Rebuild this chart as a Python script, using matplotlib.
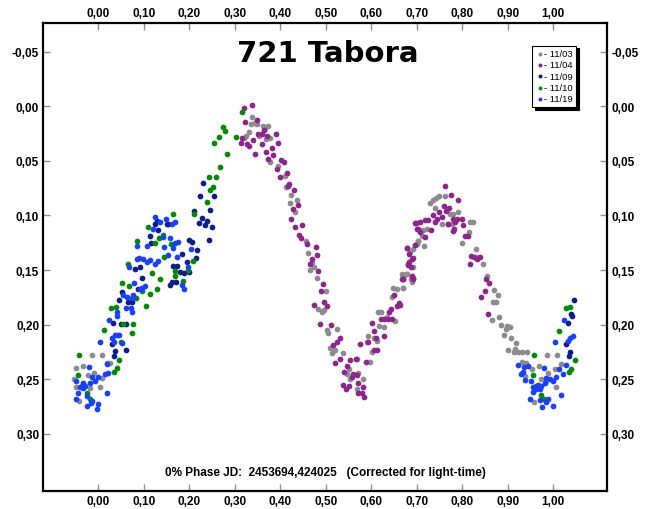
import matplotlib
matplotlib.use("Agg")
import matplotlib.pyplot as plt
from matplotlib.ticker import FixedLocator, FuncFormatter

plt.rcParams['font.family'] = ['Liberation Sans', 'DejaVu Sans']

# ---- Lightcurve data: (phase, relative magnitude) per night ----
phase_1103 = [-0.015, 0.007, 0.018, 0.025, -0.050, -0.033, -0.053, -0.022, -0.010, 0.007, 0.003,
              -0.042, -0.048, -0.019,
              0.338, 0.344, 0.335, 0.349, 0.363, 0.374, 0.366, 0.324, 0.332, 0.320, 0.354, 0.377,
              0.368, 0.377, 0.396, 0.410, 0.412, 0.423, 0.436, 0.421, 0.432, 0.456, 0.462, 0.469,
              0.475, 0.480, 0.465, 0.500, 0.483, 0.491, 0.497, 0.505, 0.524, 0.503, 0.509, 0.513,
              0.520, 0.538, 0.552, 0.546, 0.568, 0.571, 0.553, 0.581, 0.568, 0.597, 0.590, 0.601,
              0.593, 0.606, 0.612, 0.618, 0.629, 0.621, 0.614, 0.634, 0.652, 0.648, 0.657, 0.645,
              0.670, 0.668, 0.678, 0.687, 0.691, 0.703, 0.696, 0.701,
              0.730, 0.736, 0.742, 0.749, 0.762, 0.740, 0.773, 0.780, 0.791, 0.755, 0.769, 0.777,
              0.714, 0.722, 0.818, 0.824, 0.815, 0.800, 0.711, 0.716, 0.703, 0.692, 0.685, 0.676,
              0.669, 0.670, 0.689, 0.830, 0.834, 0.846, 0.855, 0.870, 0.879, 0.874, 0.868, 0.865,
              0.881, 0.886, 0.899, 0.905, 0.896, 0.892, 0.908, 0.918, 0.916, 0.901, 0.914, 0.923,
              0.931, 0.943, 0.932, 0.940, 0.953, 0.969, 0.987, 1.009, 1.004, 1.018, 0.989, 0.974,
              0.985, 1.006, 0.958, 0.938]
mag_1103 = [0.228, 0.228, 0.235, 0.235, 0.240, 0.238, 0.250, 0.246, 0.244, 0.249, 0.257,
            0.270, 0.257, 0.258,
            0.010, 0.015, 0.016, 0.016, 0.018, 0.018, 0.020, 0.027, 0.024, 0.029, 0.027, 0.029,
            0.030, 0.051, 0.055, 0.064, 0.074, 0.081, 0.086, 0.089, 0.097, 0.123, 0.134, 0.143,
            0.147, 0.157, 0.150, 0.169, 0.186, 0.188, 0.187, 0.208, 0.204, 0.205, 0.221, 0.226,
            0.223, 0.226, 0.241, 0.245, 0.231, 0.244, 0.250, 0.250, 0.259, 0.234, 0.216, 0.225,
            0.210, 0.212, 0.215, 0.201, 0.202, 0.188, 0.188, 0.193, 0.197, 0.166, 0.167, 0.175,
            0.166, 0.154, 0.154, 0.158, 0.147, 0.123, 0.127, 0.126,
            0.089, 0.086, 0.084, 0.082, 0.082, 0.093, 0.099, 0.099, 0.097, 0.108, 0.108, 0.108,
            0.113, 0.112, 0.106, 0.106, 0.115, 0.125, 0.119, 0.128, 0.123, 0.131, 0.133, 0.154,
            0.155, 0.166, 0.161, 0.131, 0.138, 0.144, 0.155, 0.168, 0.173, 0.179, 0.179, 0.196,
            0.193, 0.200, 0.201, 0.202, 0.204, 0.209, 0.212, 0.217, 0.222, 0.223, 0.225, 0.225,
            0.225, 0.225, 0.234, 0.235, 0.241, 0.238, 0.228, 0.228, 0.241, 0.236, 0.244, 0.250,
            0.252, 0.257, 0.271, 0.247]

phase_1104 = [0.320, 0.338, 0.322, 0.348, 0.315, 0.313, 0.326, 0.332, 0.341, 0.352, 0.359, 0.364,
              0.370, 0.360, 0.344, 0.368, 0.374, 0.382, 0.385, 0.390, 0.394, 0.401, 0.409, 0.392,
              0.399, 0.414, 0.420, 0.416, 0.430, 0.440, 0.429, 0.423, 0.433, 0.448, 0.442, 0.445,
              0.459, 0.478, 0.480, 0.469, 0.465, 0.483, 0.493, 0.489, 0.497, 0.502, 0.475, 0.487,
              0.511, 0.531, 0.524, 0.516, 0.520, 0.531, 0.540, 0.546, 0.553, 0.566, 0.560, 0.557,
              0.568, 0.571, 0.538, 0.544, 0.552, 0.581, 0.570, 0.579, 0.584, 0.575, 0.588, 0.592,
              0.601, 0.606, 0.610, 0.607, 0.612, 0.628, 0.621, 0.629, 0.637, 0.645, 0.640, 0.643,
              0.656, 0.661, 0.651, 0.667, 0.670, 0.691, 0.687, 0.680, 0.689, 0.684, 0.678, 0.698,
              0.703,
              0.762, 0.775, 0.791, 0.760, 0.771, 0.764, 0.749, 0.735, 0.755, 0.744, 0.740, 0.718,
              0.725, 0.707, 0.696, 0.700, 0.708, 0.731, 0.718, 0.697, 0.678, 0.691, 0.683, 0.681,
              0.689, 0.692, 0.669, 0.663, 0.780, 0.784, 0.789, 0.799, 0.802, 0.806, 0.813, 0.819,
              0.826, 0.832, 0.839, 0.817, 0.853, 0.859, 0.850, 0.841, 0.857, 0.779, 0.769, 0.782]
mag_1104 = [0.002, -0.001, 0.014, 0.013, 0.029, 0.034, 0.035, 0.036, 0.031, 0.025, 0.025, 0.022,
            0.027, 0.035, 0.044, 0.042, 0.048, 0.038, 0.045, 0.025, 0.034, 0.049, 0.051, 0.057,
            0.065, 0.061, 0.071, 0.073, 0.077, 0.090, 0.094, 0.103, 0.111, 0.109, 0.118, 0.121,
            0.126, 0.129, 0.136, 0.140, 0.144, 0.151, 0.163, 0.169, 0.179, 0.183, 0.182, 0.199,
            0.200, 0.212, 0.216, 0.219, 0.235, 0.231, 0.243, 0.238, 0.232, 0.231, 0.245, 0.248,
            0.246, 0.253, 0.255, 0.259, 0.256, 0.257, 0.263, 0.263, 0.266, 0.218, 0.234, 0.216,
            0.198, 0.206, 0.212, 0.223, 0.223, 0.210, 0.195, 0.195, 0.195, 0.195, 0.188, 0.186,
            0.183, 0.180, 0.173, 0.158, 0.158, 0.157, 0.147, 0.144, 0.140, 0.135, 0.130, 0.107,
            0.112,
            0.073, 0.081, 0.086, 0.091, 0.093, 0.096, 0.097, 0.100, 0.101, 0.103, 0.106, 0.104,
            0.104, 0.106, 0.107, 0.112, 0.115, 0.113, 0.120, 0.127, 0.130, 0.139, 0.143, 0.145,
            0.155, 0.158, 0.158, 0.182, 0.103, 0.106, 0.103, 0.103, 0.109, 0.119, 0.119, 0.137,
            0.138, 0.140, 0.138, 0.144, 0.158, 0.162, 0.169, 0.175, 0.190, 0.114, 0.108, 0.112]

phase_1109 = [0.230, 0.223, 0.254, 0.245, 0.211, 0.228, 0.221, 0.234, 0.240, 0.250, 0.243, 0.200,
              0.207, 0.217, 0.214, 0.194, 0.183, 0.174, 0.164, 0.199, 0.188, 0.179, 0.161, 0.157,
              0.170, 0.128, 0.124, 0.131, 0.113, 0.115, 0.091, 0.080, 0.095, 0.088, 0.073, 0.066,
              0.046, 0.053, 0.033, 0.049, 0.060, 0.029, 0.036, 0.034, 0.060, 0.150, 0.153,
              1.046, 1.040, 1.042, 1.032, 1.028, 1.038, 1.035]
mag_1109 = [0.070, 0.082, 0.082, 0.095, 0.096, 0.102, 0.107, 0.109, 0.105, 0.111, 0.122, 0.122,
            0.124, 0.132, 0.139, 0.143, 0.135, 0.146, 0.146, 0.152, 0.153, 0.152, 0.161, 0.164,
            0.161, 0.105, 0.108, 0.113, 0.119, 0.125, 0.147, 0.149, 0.157, 0.167, 0.179, 0.179,
            0.177, 0.170, 0.198, 0.199, 0.199, 0.218, 0.224, 0.229, 0.223, 0.108, 0.108,
            0.177, 0.190, 0.192, 0.198, 0.218, 0.225, 0.229]

phase_1110 = [-0.042, -0.044, -0.026, -0.019, 0.034, 0.040, 0.046, 0.049, 0.013, 0.073, 0.055,
              0.076, 0.027, 0.038, 0.104, 0.053, 0.068, 0.066, 0.082, 0.097, 0.113, 0.128, 0.119,
              0.135, 0.085, 0.109, 0.125, 0.134, 0.142, 0.159, 0.164, 0.145, 0.168, 0.168, 0.186,
              0.197, 0.208, 0.211, 0.238, 0.245, 0.252, 0.243, 0.258, 0.267, 0.283, 0.255, 0.265,
              0.274, 0.278, 0.302, 0.315,
              1.028, 1.038, 1.012, 0.958, 0.956, 0.973, 0.980, 1.048, 1.035, 1.040]
mag_1110 = [0.228, 0.246, 0.263, 0.268, 0.243, 0.240, 0.232, 0.216, 0.205, 0.208, 0.199,
            0.199, 0.185, 0.184, 0.183, 0.162, 0.165, 0.144, 0.176, 0.169, 0.172, 0.167, 0.153,
            0.158, 0.123, 0.111, 0.125, 0.121, 0.118, 0.126, 0.099, 0.138, 0.151, 0.155, 0.160,
            0.150, 0.142, 0.099, 0.088, 0.077, 0.074, 0.065, 0.065, 0.056, 0.044, 0.034, 0.028,
            0.019, 0.023, 0.028, 0.005,
            0.185, 0.184, 0.206, 0.228, 0.246, 0.264, 0.268, 0.232, 0.243, 0.241]

phase_1119 = [0.124, 0.135, 0.148, 0.161, 0.168, 0.120, 0.142, 0.145, 0.157, 0.168, 0.175, 0.164,
              0.153, 0.173, 0.203, 0.197, 0.185, 0.188, 0.106, 0.086, 0.084, 0.090, 0.098, 0.106,
              0.113, 0.124, 0.131, 0.068, 0.079, 0.095, 0.102, 0.091, 0.054, 0.063, 0.073, 0.076,
              0.060, 0.071, 0.073, 0.041, 0.042, 0.023, 0.029, 0.036, 0.040, 0.046, 0.034, 0.051,
              0.003, 0.018, 0.021, 0.014, 0.000, -0.015, -0.008, -0.020, -0.033, -0.037, -0.030,
              -0.019, -0.048, -0.044, -0.048, -0.033, -0.041, -0.026, -0.017, -0.015, 0.000,
              -0.003, 0.018, -0.026,
              0.923, 0.936, 0.933, 0.930, 0.945, 0.939, 0.952, 0.956, 0.960, 0.963, 0.967, 0.971,
              0.974, 0.982, 0.985, 0.993, 0.999, 1.007, 1.013, 1.021, 1.028, 1.033, 1.038, 1.044,
              1.024, 1.004, 0.980, 0.955, 0.950, 0.971, 0.985, 0.989, 0.976, 1.000, 1.018, 0.963]
mag_1119 = [0.101, 0.106, 0.103, 0.108, 0.106, 0.112, 0.120, 0.129, 0.121, 0.125, 0.124, 0.130,
            0.136, 0.138, 0.131, 0.147, 0.164, 0.167, 0.128, 0.128, 0.140, 0.139, 0.140, 0.143,
            0.141, 0.144, 0.142, 0.147, 0.162, 0.166, 0.165, 0.167, 0.173, 0.175, 0.176, 0.173,
            0.185, 0.185, 0.188, 0.188, 0.192, 0.196, 0.212, 0.209, 0.209, 0.209, 0.216, 0.217,
            0.216, 0.236, 0.244, 0.245, 0.248, 0.248, 0.252, 0.239, 0.253, 0.256, 0.256,
            0.253, 0.252, 0.263, 0.268, 0.258, 0.257, 0.274, 0.272, 0.270, 0.273,
            0.277, 0.263, 0.265,
            0.237, 0.239, 0.243, 0.245, 0.238, 0.251, 0.252, 0.257, 0.257, 0.256, 0.255, 0.259,
            0.256, 0.253, 0.249, 0.250, 0.252, 0.248, 0.241, 0.245, 0.237, 0.215, 0.212, 0.210,
            0.196, 0.216, 0.240, 0.262, 0.268, 0.269, 0.271, 0.268, 0.275, 0.274, 0.264, 0.259]

nights = ["11/03", "11/04", "11/09", "11/10", "11/19"]
phases = [phase_1103, phase_1104, phase_1109, phase_1110, phase_1119]
mags = [mag_1103, mag_1104, mag_1109, mag_1110, mag_1119]
colors = ["#8c8c8c", "#8e248e", "#0c1e8c", "#008c00", "#1a40ff"]

x_ticks = [0.0, 0.1, 0.2, 0.3, 0.4, 0.5, 0.6, 0.7, 0.8, 0.9, 1.0]
y_ticks = [-0.05, 0.0, 0.05, 0.10, 0.15, 0.20, 0.25, 0.30]

fig = plt.figure(figsize=(6.53, 5.10), dpi=100)
ax = fig.add_axes([0.0663, 0.0359, 0.8637, 0.9165])

for name, px, my, c in zip(nights, phases, mags, colors):
    ax.scatter(px, my, s=17, color=c, linewidths=0, label="- " + name, zorder=3)

ax.set_xlim(-0.121, 1.119)
ax.set_ylim(0.352, -0.076)

ax.xaxis.set_major_locator(FixedLocator(x_ticks))
ax.yaxis.set_major_locator(FixedLocator(y_ticks))
comma = FuncFormatter(lambda v, p: f"{v:.2f}".replace(".", ",").replace("-0,00", "0,00"))
ax.xaxis.set_major_formatter(comma)
ax.yaxis.set_major_formatter(comma)

ax.tick_params(axis="both", which="major", direction="in", length=5, width=1,
               color="#909090", top=True, right=True, labeltop=True, labelright=True,
               labelsize=8.5, pad=3)
for t in ax.xaxis.get_major_ticks() + ax.yaxis.get_major_ticks():
    t.label1.set_fontweight("bold")
    t.label2.set_fontweight("bold")

for sp in ax.spines.values():
    sp.set_linewidth(1.6)
    sp.set_color("black")

fig.text(0.502, 0.894, "721 Tabora", ha="center", va="center",
         fontsize=21, fontweight="bold", family="DejaVu Sans")
fig.text(0.499, 0.072, "0% Phase JD:  2453694,424025   (Corrected for light-time)",
         ha="center", va="center", fontsize=8.5, fontweight="bold")

leg = ax.legend(loc="upper right", bbox_to_anchor=(0.9445, 0.952), fontsize=6.8,
                frameon=True, fancybox=False, edgecolor="black", framealpha=1,
                shadow={"color": "black", "alpha": 1}, handletextpad=0.0,
                handlelength=0.9, borderpad=0.35, labelspacing=0.25, markerscale=0.7,
                borderaxespad=0)
leg.get_frame().set_linewidth(0.8)

fig.savefig("out.png", dpi=100)
